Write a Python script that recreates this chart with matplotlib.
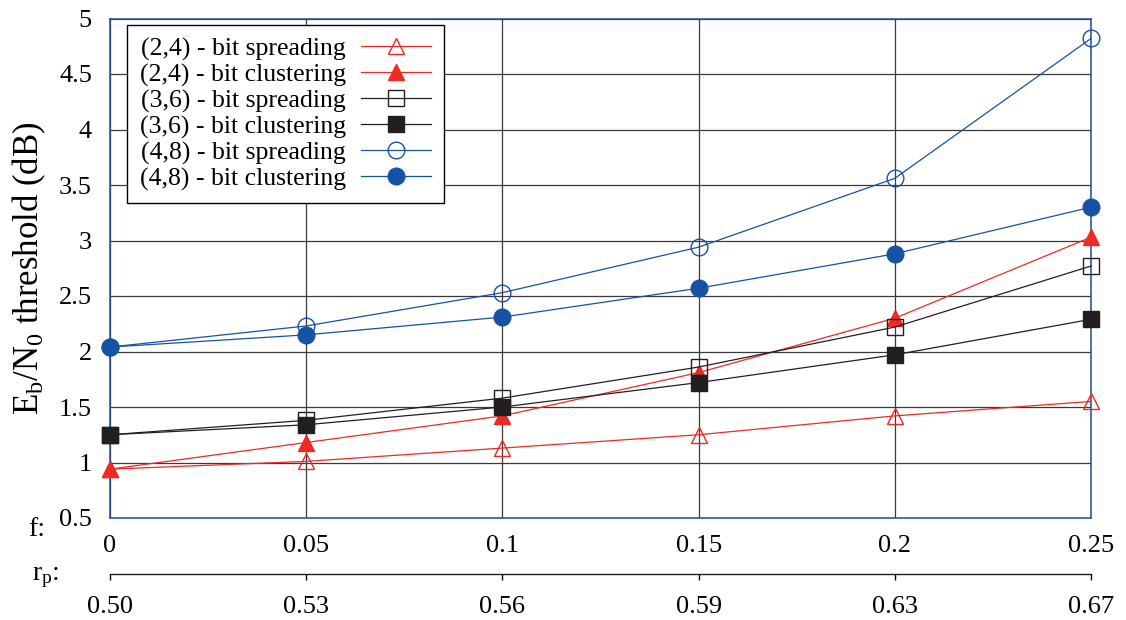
import numpy as np
import matplotlib.pyplot as plt

plt.rcParams['font.family'] = ['Liberation Serif', 'DejaVu Serif']
plt.rcParams['mathtext.fontset'] = 'custom'
plt.rcParams['mathtext.rm'] = 'Liberation Serif'
plt.rcParams['mathtext.it'] = 'Liberation Serif:italic'

# fraction of punctured bits f, and the matching rate r_p
f_vals = [0, 0.05, 0.1, 0.15, 0.2, 0.25]
f_labels = ['0', '0.05', '0.1', '0.15', '0.2', '0.25']
rp_labels = ['0.50', '0.53', '0.56', '0.59', '0.63', '0.67']

# Eb/N0 thresholds (dB)
spread_24 = [0.94, 1.01, 1.13, 1.25, 1.42, 1.55]
cluster_24 = [0.94, 1.18, 1.42, 1.81, 2.30, 3.03]
spread_36 = [1.25, 1.38, 1.58, 1.86, 2.22, 2.77]
cluster_36 = [1.25, 1.34, 1.50, 1.72, 1.97, 2.29]
spread_48 = [2.04, 2.23, 2.53, 2.94, 3.56, 4.82]
cluster_48 = [2.04, 2.15, 2.31, 2.57, 2.88, 3.30]

red = '#ee2a24'
black = '#231f20'
blue = '#1652a6'

fig = plt.figure(figsize=(11.26, 6.2), dpi=100)
ax = fig.add_axes([110/1126, 102/620, 981/1126, 499.5/620])

series = [
    (spread_24, red, '^', 'none', '(2,4) - bit spreading'),
    (cluster_24, red, '^', red, '(2,4) - bit clustering'),
    (spread_36, black, 's', 'none', '(3,6) - bit spreading'),
    (cluster_36, black, 's', black, '(3,6) - bit clustering'),
    (spread_48, blue, 'o', 'none', '(4,8) - bit spreading'),
    (cluster_48, blue, 'o', blue, '(4,8) - bit clustering'),
]
for vals, col, mk, face, lab in series:
    ax.plot(f_vals, vals, color=col, lw=0.9, marker=mk, ms=12,
            mfc=face, mec=col, mew=1.0, label=lab, clip_on=False, zorder=3)

ax.set_xlim(0, 0.25)
ax.set_ylim(0.5, 5)
ax.set_xticks(f_vals, f_labels)
yt = np.arange(0.5, 5.01, 0.5)
ax.set_yticks(yt, ['%g' % v for v in yt])
ax.tick_params(axis='x', length=0, pad=12, labelsize=19)
ax.tick_params(axis='y', length=0, pad=13, labelsize=19)
ax.grid(color='#3a3a3a', lw=0.9)
for sp in ax.spines.values():
    sp.set_color('#1f4e96')
    sp.set_linewidth(1.1)

ax.set_ylabel(r'$\mathregular{E_b/N_0}$ threshold (dB)', fontsize=25, labelpad=8)

leg = ax.legend(loc='upper left', bbox_to_anchor=(17/981, 1 - 6/499.5),
                borderaxespad=0, markerfirst=False, fancybox=False,
                framealpha=1, edgecolor='black', fontsize=18.5,
                handlelength=2.7, labelspacing=0.1, borderpad=0.5,
                handletextpad=0.6)
leg.get_frame().set_linewidth(1.0)

# second scale: code rate after puncturing
sec = ax.secondary_xaxis(-0.112)
sec.set_xticks(f_vals, rp_labels)
sec.spines['bottom'].set_color(black)
sec.spines['bottom'].set_linewidth(1.0)
sec.tick_params(direction='out', length=4, width=1.0, pad=12, labelsize=19)

fig.text(37/1126, 1 - 530/620, 'f:', fontsize=20, ha='center', va='center')
fig.text(46/1126, 1 - 577/620, r'r$_\mathregular{p}$:', fontsize=20,
         ha='center', va='center')

fig.savefig('out.png', dpi=100)
